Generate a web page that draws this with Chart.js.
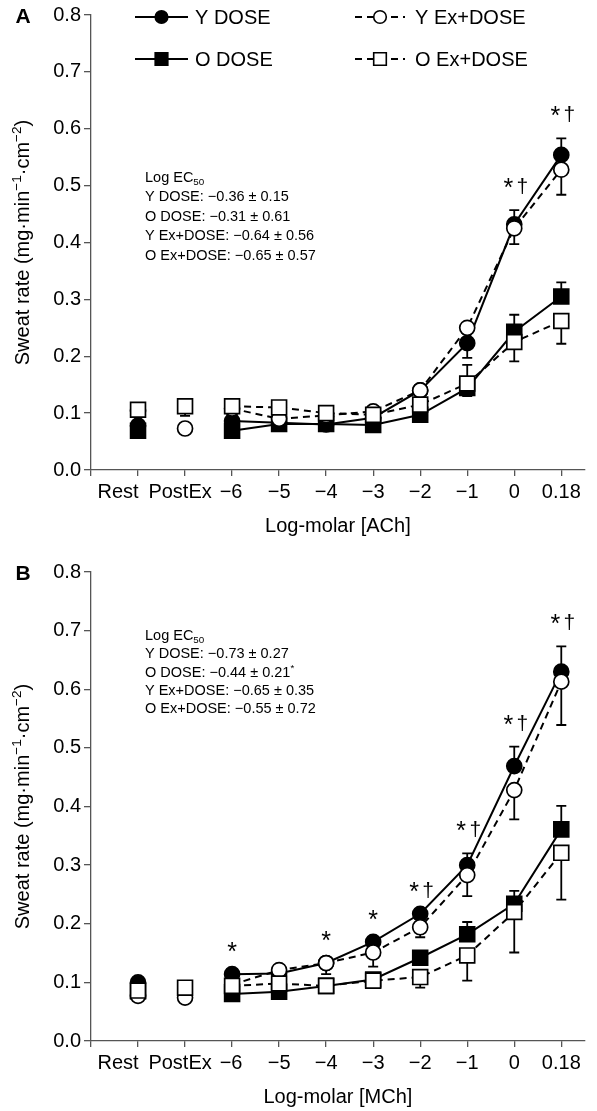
<!DOCTYPE html>
<html>
<head>
<meta charset="utf-8">
<script src="https://cdn.jsdelivr.net/npm/chart.js@4.4.1/dist/chart.umd.min.js"></script>
<style>
  html, body { margin: 0; padding: 0; background: #fff; }
  canvas { display: block; }
</style>
</head>
<body>
<canvas id="chartA" width="597" height="555"></canvas>
<canvas id="chartB" width="597" height="556"></canvas>
<script>
// categories on the x axis (Rest, PostEx, then log-molar doses)
const categories = ['Rest', 'PostEx', '\u22126', '\u22125', '\u22124', '\u22123', '\u22122', '\u22121', '0', '0.18']
const yTicks = [0, 0.1, 0.2, 0.3, 0.4, 0.5, 0.6, 0.7, 0.8]
const seriesNames = ['Y DOSE', 'O DOSE', 'Y Ex+DOSE', 'O Ex+DOSE']

// Panel A - ACh
const achYDose = [0.078, null, 0.086, 0.083, 0.080, 0.092, 0.140, 0.223, 0.432, 0.554]
const achODose = [0.069, null, 0.069, 0.081, 0.081, 0.079, 0.097, 0.144, 0.243, 0.305]
const achYEx = [0.104, 0.073, 0.108, 0.090, 0.096, 0.103, 0.140, 0.250, 0.425, 0.528]
const achOEx = [0.106, 0.112, 0.112, 0.110, 0.100, 0.097, 0.115, 0.152, 0.225, 0.262]
// SE bars: positive = drawn upward, negative = drawn downward, 0 = none
const achYDoseErr = [0, 0, 0, 0, 0, 0, 0, -0.026, 0.025, 0.029]
const achODoseErr = [0, 0, 0, 0, 0, 0, 0, -0.014, 0.030, 0.025]
const achYExErr = [0, 0, 0, 0, 0, 0, 0, 0, -0.028, -0.044]
const achOExErr = [0, -0.017, 0, 0, 0, 0, 0, 0.033, -0.034, -0.040]
const achMarks = ['', '', '', '', '', '', '', '', '*\u2020', '*\u2020']
const achEc50 = ['Y DOSE: \u22120.36 \u00b1 0.15', 'O DOSE: \u22120.31 \u00b1 0.61', 'Y Ex+DOSE: \u22120.64 \u00b1 0.56', 'O Ex+DOSE: \u22120.65 \u00b1 0.57']

// Panel B - MCh
const mchYDose = [0.100, null, 0.114, 0.115, 0.133, 0.169, 0.217, 0.300, 0.469, 0.630]
const mchODose = [0.085, null, 0.080, 0.084, 0.094, 0.105, 0.142, 0.182, 0.234, 0.361]
const mchYEx = [0.077, 0.074, 0.096, 0.121, 0.133, 0.151, 0.194, 0.283, 0.428, 0.613]
const mchOEx = [0.086, 0.091, 0.094, 0.098, 0.094, 0.103, 0.109, 0.146, 0.220, 0.321]
const mchYDoseErr = [0, 0, 0, 0, 0, 0, 0, 0.020, 0.033, 0.043]
const mchODoseErr = [0, 0, 0, 0, 0, 0, 0, 0.021, 0.022, 0.040]
const mchYExErr = [0, 0, 0, 0, -0.019, -0.024, -0.017, -0.036, -0.050, -0.074]
const mchOExErr = [0, 0, 0, 0, 0, 0, -0.018, -0.043, -0.069, -0.080]
const mchMarks = ['', '', '*', '', '*', '*', '*\u2020', '*\u2020', '*\u2020', '*\u2020']
const mchEc50 = ['Y DOSE: \u22120.73 \u00b1 0.27', 'O DOSE: \u22120.44 \u00b1 0.21*', 'Y Ex+DOSE: \u22120.65 \u00b1 0.35', 'O Ex+DOSE: \u22120.55 \u00b1 0.72']

const FONT = '"Liberation Sans", Arial, Helvetica, sans-serif'
const axisColor = '#555'
// the first two x labels sit a bit left of their tick so they do not collide
const labelShift = [-20, -5, -1, 0, 0, 0, 0, 0, 0, 0]

// look of each group: filled = DOSE, open = Ex+DOSE
const styles = [
    { shape: 'circle', fill: '#000', dash: [] },
    { shape: 'rect', fill: '#000', dash: [] },
    { shape: 'circle', fill: '#fff', dash: [7, 5] },
    { shape: 'rect', fill: '#fff', dash: [7, 5] }
]

function drawParts(ctx, parts, x, y, size, align) {
    let total = 0
    parts.forEach(p => {
        ctx.font = (p.sup || p.sub ? size * 0.68 : size) + 'px ' + FONT
        p.w = ctx.measureText(p.t).width
        total += p.w
    })
    let cx = align === 'center' ? x - total / 2 : x
    ctx.textAlign = 'left'
    ctx.textBaseline = 'alphabetic'
    parts.forEach(p => {
        ctx.font = (p.sup || p.sub ? size * 0.68 : size) + 'px ' + FONT
        const dy = p.sup ? -size * 0.4 : (p.sub ? size * 0.22 : 0)
        ctx.fillText(p.t, cx, y + dy)
        cx += p.w
    })
}

function drawMarker(ctx, st, x, y, r) {
    ctx.beginPath()
    if (st.shape === 'circle') {
        ctx.arc(x, y, r, 0, Math.PI * 2)
    } else {
        ctx.rect(x - r, y - r, r * 2, r * 2)
    }
    ctx.fillStyle = st.fill
    ctx.fill()
    ctx.setLineDash([])
    ctx.lineWidth = 1.6
    ctx.strokeStyle = '#000'
    ctx.stroke()
}

const extrasPlugin = {
    id: 'extras',
    beforeDatasetsDraw(chart) {
        const p = chart.options.plugins.extras
        const ctx = chart.ctx
        const xs = chart.scales.x, ys = chart.scales.y
        ctx.save()
        ctx.strokeStyle = '#000'
        ctx.lineWidth = 1.8
        ctx.setLineDash([])
        p.errs.forEach((errs, s) => {
            errs.forEach((e, i) => {
                const v = p.series[s][i]
                if (!e || v === null) return
                const x = xs.getPixelForValue(i + 1)
                const y0 = ys.getPixelForValue(v)
                const y1 = ys.getPixelForValue(v + e)
                ctx.beginPath()
                ctx.moveTo(x, y0)
                ctx.lineTo(x, y1)
                ctx.moveTo(x - 5, y1)
                ctx.lineTo(x + 5, y1)
                ctx.stroke()
            })
        })
        ctx.restore()
    },
    afterDraw(chart) {
        const p = chart.options.plugins.extras
        const ctx = chart.ctx
        const area = chart.chartArea
        const xs = chart.scales.x, ys = chart.scales.y
        ctx.save()
        ctx.fillStyle = '#000'

        // x tick labels
        ctx.font = '20px ' + FONT
        ctx.textAlign = 'center'
        ctx.textBaseline = 'middle'
        categories.forEach((c, i) => {
            ctx.fillText(c, xs.getPixelForValue(i + 1) + labelShift[i], area.bottom + 22)
        })

        // significance marks above each dose
        p.marks.forEach((m, i) => {
            if (!m) return
            let top = 0
            p.series.forEach((vals, s) => {
                const v = vals[i]
                if (v === null) return
                top = Math.max(top, v + Math.max(p.errs[s][i], 0))
            })
            const x = xs.getPixelForValue(i + 1)
            const base = ys.getPixelForValue(top) - 17
            ctx.textBaseline = 'alphabetic'
            ctx.textAlign = 'center'
            if (m.length === 1) {
                ctx.font = '25px ' + FONT
                ctx.fillText('*', x, base + 3)
            } else {
                ctx.font = '25px ' + FONT
                ctx.fillText('*', x - 6, base + 3)
                ctx.font = '21px ' + FONT
                ctx.fillText('\u2020', x + 8, base)
            }
        })

        // Log EC50 block
        const ex = 145
        let ey = ys.getPixelForValue(p.ec50At) + 5
        drawParts(ctx, [{ t: 'Log EC' }, { t: '50', sub: true }], ex, ey, 14.5, 'left')
        p.ec50.forEach(line => {
            ey += p.ec50Gap
            const parts = line.endsWith('*') ? [{ t: line.slice(0, -1) }, { t: '*', sup: true }] : [{ t: line }]
            drawParts(ctx, parts, ex, ey, 14.5, 'left')
        })

        // axis titles
        drawParts(ctx, [{ t: p.xTitle }], (area.left + area.right) / 2, area.bottom + 62, 20, 'center')
        ctx.save()
        ctx.translate(29, (area.top + area.bottom) / 2)
        ctx.rotate(-Math.PI / 2)
        drawParts(ctx, [{ t: 'Sweat rate (mg\u00b7min' }, { t: '\u22121', sup: true }, { t: '\u00b7cm' }, { t: '\u22122', sup: true }, { t: ')' }], 0, 0, 20, 'center')
        ctx.restore()

        // panel letter
        ctx.font = 'bold 21px ' + FONT
        ctx.textAlign = 'center'
        ctx.textBaseline = 'middle'
        ctx.fillText(p.letter, 23, ys.getPixelForValue(0.8) + 2)

        // legend (panel A only)
        if (p.legend) {
            const cols = [[135, 188, 195], [355, 405, 415]]
            const rows = [17, 59]
            seriesNames.forEach((name, s) => {
                const [x0, x1, tx] = cols[Math.floor(s / 2)]
                const y = rows[s % 2]
                const st = styles[s]
                ctx.beginPath()
                ctx.setLineDash(st.dash)
                ctx.lineWidth = 2
                ctx.strokeStyle = '#000'
                ctx.moveTo(x0, y)
                ctx.lineTo(x1, y)
                ctx.stroke()
                drawMarker(ctx, st, (x0 + x1) / 2, y, 6.3)
                ctx.fillStyle = '#000'
                ctx.font = '20px ' + FONT
                ctx.textAlign = 'left'
                ctx.textBaseline = 'middle'
                ctx.fillText(name, tx, y + 1)
            })
        }
        ctx.restore()
    }
}

function makeChart(id, cfg) {
    const datasets = cfg.series.map((vals, s) => {
        const st = styles[s]
        return {
            label: seriesNames[s],
            data: vals.map((v, i) => ({ x: i + 1, y: v })),
            borderColor: '#000',
            borderWidth: 2,
            borderDash: st.dash,
            pointStyle: st.shape === 'circle' ? 'circle' : 'rect',
            pointRadius: st.shape === 'circle' ? 7.5 : 10.5,
            pointBackgroundColor: st.fill,
            pointBorderColor: '#000',
            pointBorderWidth: 1.7,
            pointHoverRadius: 0,
            spanGaps: false,
            tension: 0,
            clip: false,
            order: 4 - s,
            // Rest and PostEx are not joined to the dose curve
            segment: {
                borderColor: c => c.p0DataIndex < 2 ? 'rgba(0,0,0,0)' : '#000'
            }
        }
    })

    return new Chart(document.getElementById(id), {
        type: 'line',
        data: { datasets: datasets },
        options: {
            responsive: false,
            animation: false,
            devicePixelRatio: 1,
            layout: { padding: { top: cfg.plotTop, right: 1, left: 0, bottom: 0 } },
            plugins: {
                legend: { display: false },
                tooltip: { enabled: false },
                extras: cfg
            },
            scales: {
                x: {
                    type: 'linear',
                    min: 0,
                    max: 10.5,
                    afterBuildTicks: s => { s.ticks = categories.map((c, i) => ({ value: i })).concat([{ value: 10 }]) },
                    afterFit: s => { s.height = cfg.xAxisH },
                    ticks: { display: false },
                    grid: { drawOnChartArea: false, drawTicks: true, tickLength: 6, color: axisColor, lineWidth: 1.3 },
                    border: { color: axisColor, width: 1.3 }
                },
                y: {
                    min: 0,
                    max: 0.8,
                    afterBuildTicks: s => { s.ticks = yTicks.map(v => ({ value: v })) },
                    afterFit: s => { s.width = 91 },
                    ticks: {
                        callback: v => v.toFixed(1),
                        font: { family: FONT, size: 20 },
                        color: '#000',
                        padding: 3
                    },
                    grid: { drawOnChartArea: false, tickLength: 7, color: axisColor, lineWidth: 1.3 },
                    border: { color: axisColor, width: 1.3 }
                }
            }
        },
        plugins: [extrasPlugin]
    })
}

makeChart('chartA', {
    letter: 'A',
    xTitle: 'Log-molar [ACh]',
    series: [achYDose, achODose, achYEx, achOEx],
    errs: [achYDoseErr, achODoseErr, achYExErr, achOExErr],
    marks: achMarks,
    ec50: achEc50,
    ec50At: 0.515,
    ec50Gap: 19.4,
    plotTop: 13,
    xAxisH: 85,
    legend: true
})

makeChart('chartB', {
    letter: 'B',
    xTitle: 'Log-molar [MCh]',
    series: [mchYDose, mchODose, mchYEx, mchOEx],
    errs: [mchYDoseErr, mchODoseErr, mchYExErr, mchOExErr],
    marks: mchMarks,
    ec50: mchEc50,
    ec50At: 0.693,
    ec50Gap: 18.4,
    plotTop: 17,
    xAxisH: 70,
    legend: false
})
</script>
</body>
</html>
